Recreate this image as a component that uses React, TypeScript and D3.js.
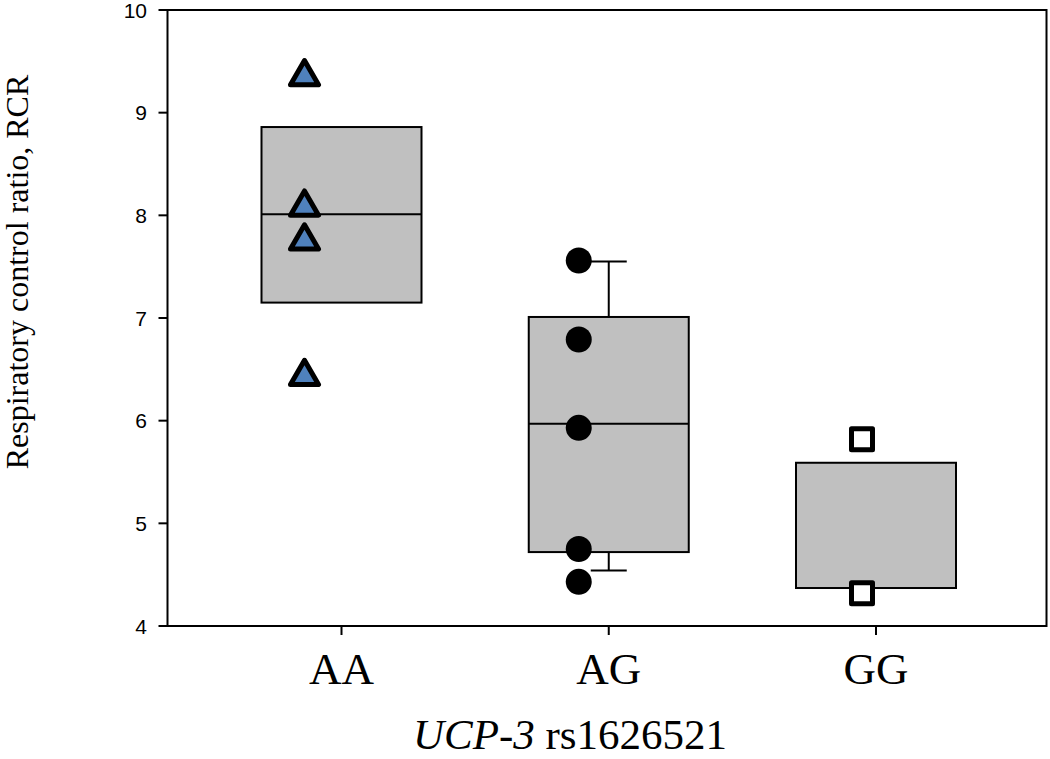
import React from "react";
import * as d3 from "d3";

const categories = ["AA", "AG", "GG"];
const boxQ1 = [7.15, 4.72, 4.37];
const boxMedian: (number | null)[] = [8.01, 5.97, null];
const boxQ3 = [8.86, 7.01, 5.59];
const whiskerLow: (number | null)[] = [null, 4.54, null];
const whiskerHigh: (number | null)[] = [null, 7.55, null];
const pointsAA = [9.37, 8.1, 7.77, 6.45];
const pointsAG = [7.56, 6.79, 5.93, 4.75, 4.43];
const pointsGG = [5.82, 4.32];
const yTicks = [4, 5, 6, 7, 8, 9, 10];

const W = 1050;
const H = 759;
const plot = { left: 167.5, right: 1046.5, top: 10, bottom: 626 };
const markerOffset = [-37, -30, -14];
const boxWidth = 160;
const capHalf = 18;

export default function App() {
  const y = d3.scaleLinear().domain([4, 10]).range([plot.bottom, plot.top]);
  const x = d3.scalePoint<string>().domain(categories).range([341.5, 876]);
  const tri = d3.symbol(d3.symbolTriangle, 340)()!;
  const sq = 21;

  return (
    <svg width={W} height={H} style={{ position: "absolute", left: 0, top: 0, background: "#fff" }}>
      {/* boxes */}
      {categories.map((c, i) => {
        const cx = x(c)!;
        return (
          <g key={c}>
            {whiskerHigh[i] != null && (
              <g stroke="#000" strokeWidth={2}>
                <line x1={cx} x2={cx} y1={y(boxQ3[i])} y2={y(whiskerHigh[i]!)} />
                <line x1={cx - capHalf} x2={cx + capHalf} y1={y(whiskerHigh[i]!)} y2={y(whiskerHigh[i]!)} />
              </g>
            )}
            {whiskerLow[i] != null && (
              <g stroke="#000" strokeWidth={2}>
                <line x1={cx} x2={cx} y1={y(boxQ1[i])} y2={y(whiskerLow[i]!)} />
                <line x1={cx - capHalf} x2={cx + capHalf} y1={y(whiskerLow[i]!)} y2={y(whiskerLow[i]!)} />
              </g>
            )}
            <rect
              x={cx - boxWidth / 2}
              width={boxWidth}
              y={y(boxQ3[i])}
              height={y(boxQ1[i]) - y(boxQ3[i])}
              fill="#c0c0c0"
              stroke="#000"
              strokeWidth={2}
            />
            {boxMedian[i] != null && (
              <line
                x1={cx - boxWidth / 2}
                x2={cx + boxWidth / 2}
                y1={y(boxMedian[i]!)}
                y2={y(boxMedian[i]!)}
                stroke="#000"
                strokeWidth={2}
              />
            )}
          </g>
        );
      })}
      {/* points */}
      {pointsAA.map((v, j) => (
        <path
          key={"a" + j}
          d={tri}
          transform={`translate(${x("AA")! + markerOffset[0]},${y(v) + 2})`}
          fill="#4f81bd"
          stroke="#000"
          strokeWidth={5}
          strokeLinejoin="round"
        />
      ))}
      {pointsAG.map((v, j) => (
        <circle key={"g" + j} cx={x("AG")! + markerOffset[1]} cy={y(v)} r={13} fill="#000" />
      ))}
      {pointsGG.map((v, j) => (
        <rect
          key={"s" + j}
          x={x("GG")! + markerOffset[2] - sq / 2}
          y={y(v) - sq / 2}
          width={sq}
          height={sq}
          fill="#fff"
          stroke="#000"
          strokeWidth={5}
          strokeLinejoin="round"
        />
      ))}
      {/* frame */}
      <rect
        x={plot.left}
        y={plot.top}
        width={plot.right - plot.left}
        height={plot.bottom - plot.top}
        fill="none"
        stroke="#000"
        strokeWidth={2}
      />
      {/* y ticks */}
      {yTicks.map((t) => (
        <g key={t}>
          <line x1={plot.left - 9} x2={plot.left} y1={y(t)} y2={y(t)} stroke="#000" strokeWidth={2} />
          <text
            x={147}
            y={y(t)}
            dy="0.36em"
            textAnchor="end"
            fontFamily="Liberation Sans, Arial, sans-serif"
            fontSize={21}
            fill="#000"
          >
            {t}
          </text>
        </g>
      ))}
      {/* x ticks */}
      {categories.map((c) => (
        <g key={c}>
          <line x1={x(c)!} x2={x(c)!} y1={plot.bottom} y2={plot.bottom + 9} stroke="#000" strokeWidth={2} />
          <text
            x={x(c)!}
            y={684}
            textAnchor="middle"
            fontFamily="Liberation Serif, Times New Roman, serif"
            fontSize={45}
            fill="#000"
          >
            {c}
          </text>
        </g>
      ))}
      {/* axis titles */}
      <text
        x={570}
        y={749}
        textAnchor="middle"
        fontFamily="Liberation Serif, Times New Roman, serif"
        fontSize={43}
        fill="#000"
      >
        <tspan fontStyle="italic">UCP-3</tspan> rs1626521
      </text>
      <text
        transform={`translate(28,272) rotate(-90)`}
        textAnchor="middle"
        fontFamily="Liberation Serif, Times New Roman, serif"
        fontSize={32}
        fill="#000"
      >
        Respiratory control ratio, RCR
      </text>
    </svg>
  );
}
